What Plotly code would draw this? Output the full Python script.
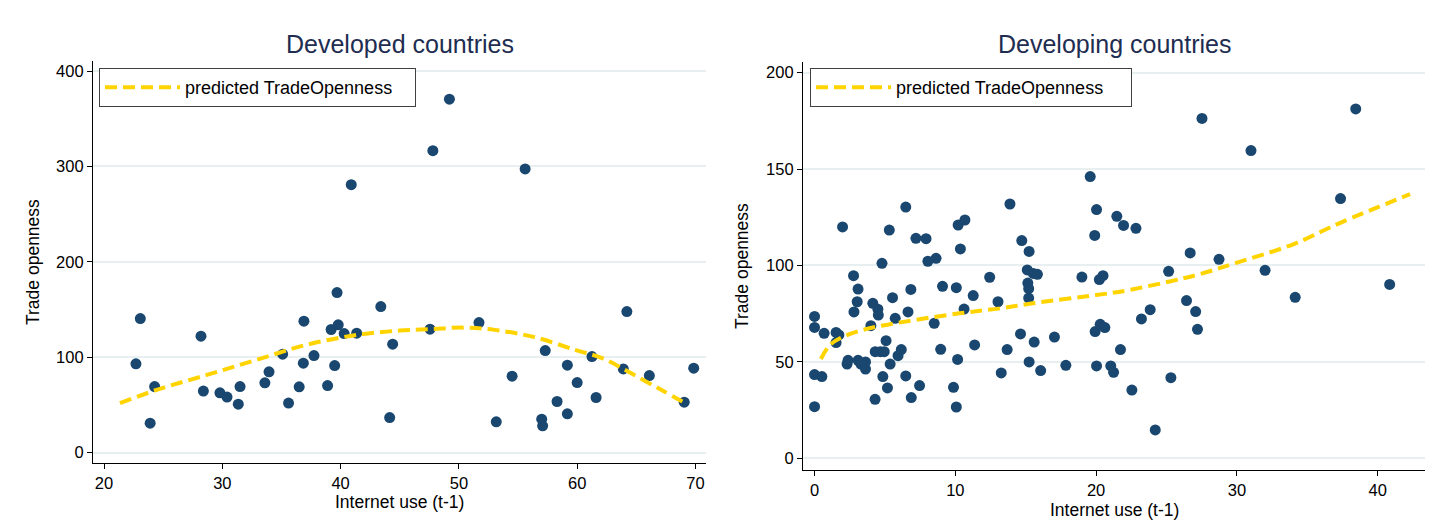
import plotly.graph_objects as go

# ---------------- Developed countries ----------------
dev_x = [22.7, 23.07, 24.28, 23.9, 28.2, 28.4, 29.8, 30.4, 31.5, 31.35,
         33.6, 33.95, 35.1, 35.6, 36.5, 36.85, 36.9, 37.75, 38.9, 39.2,
         39.5, 39.7, 39.8, 40.3, 40.9, 41.36, 43.4, 44.15, 44.4, 47.56,
         47.8, 49.2, 51.7, 53.16, 54.5, 55.6, 57.0, 57.08, 57.3, 58.3,
         59.17, 59.17, 60.0, 61.25, 61.6, 63.9, 64.2, 66.1, 69.05, 69.85]
dev_y = [93.0, 140.5, 69.2, 30.8, 122.0, 64.4, 62.6, 58.1, 69.2, 50.7,
         73.1, 84.6, 103.1, 51.8, 68.9, 93.7, 137.7, 101.7, 70.2, 129.0,
         91.2, 167.7, 133.9, 124.7, 280.9, 125.1, 153.0, 36.7, 113.6, 129.3,
         316.6, 370.6, 136.3, 32.2, 80.1, 297.4, 35.0, 28.0, 106.9, 53.5,
         91.6, 40.6, 73.4, 100.6, 57.7, 87.7, 147.8, 80.7, 52.8, 88.4]

dev_pred_x = [21.35, 24.45, 28.7, 32.9, 37.1, 41.4, 45.0, 47.6, 50.2, 53.0,
              56.4, 59.8, 62.1, 64.3, 67.1, 69.25]
dev_pred_y = [51.8, 65.7, 81.4, 97.2, 112.9, 123.4, 127.9, 129.3, 131.0, 128.6,
              121.0, 107.7, 99.0, 84.9, 65.7, 51.0]

# ---------------- Developing countries ----------------
dvg_x = [0.0, 0.0, 0.0, 0.0, 0.52, 0.68, 1.53, 1.73, 1.53, 1.99,
         2.31, 2.38, 2.77, 2.80, 3.03, 3.09, 3.09, 3.29, 3.62, 3.62,
         4.0, 4.14, 4.30, 4.31, 4.67, 4.50, 4.53, 4.79, 4.95, 4.85,
         5.08, 5.18, 5.31, 5.37, 5.54, 5.73, 5.93, 6.16, 6.48, 6.48,
         6.64, 6.84, 6.87, 7.2, 7.46, 7.92, 8.05, 8.5, 8.63, 8.96,
         9.09, 9.87, 10.07, 10.07, 10.16, 10.2, 10.36, 10.62, 10.68, 11.27,
         11.37, 12.44, 13.03, 13.26, 13.68, 13.88, 14.63, 14.72, 15.11, 15.15,
         15.21, 15.21, 15.24, 15.24, 15.6, 15.54, 15.83, 16.06, 17.04, 17.85,
         18.99, 19.58, 19.9, 19.93, 20.03, 20.03, 20.23, 20.29, 20.49, 20.62,
         21.04, 21.24, 21.47, 21.73, 21.95, 22.54, 22.83, 23.22, 23.84, 24.2,
         25.15, 25.31, 26.42, 26.68, 27.07, 27.2, 27.52, 28.73, 31.0, 32.0,
         34.14, 37.36, 38.44, 40.85]
dvg_y = [73.6, 67.9, 43.4, 26.8, 42.4, 64.8, 65.3, 64.0, 60.0, 120.0,
         48.9, 50.8, 94.7, 75.9, 81.2, 87.8, 50.8, 48.9, 46.3, 50.0,
         68.8, 80.4, 30.6, 55.3, 55.3, 77.3, 74.3, 101.1, 55.3, 42.4,
         61.0, 36.5, 118.4, 48.9, 83.3, 72.6, 53.2, 56.4, 130.3, 42.7,
         75.9, 87.6, 31.5, 114.1, 37.7, 113.9, 102.2, 70.0, 103.7, 56.5,
         89.2, 36.8, 88.5, 26.6, 51.3, 121.0, 108.6, 77.4, 123.6, 84.4,
         58.8, 93.9, 81.2, 44.3, 56.4, 131.9, 64.5, 112.9, 97.7, 90.9,
         88.0, 83.1, 107.3, 50.0, 60.3, 95.9, 95.4, 45.5, 62.9, 48.2,
         94.0, 146.1, 115.6, 65.7, 129.0, 47.9, 92.7, 69.5, 94.7, 67.8,
         47.9, 44.6, 125.5, 56.4, 120.8, 35.4, 119.3, 72.3, 77.1, 14.7,
         97.0, 41.8, 81.8, 106.5, 76.1, 66.9, 176.3, 103.2, 159.6, 97.5,
         83.5, 134.7, 181.2, 90.2]

dvg_pred_x = [0.45, 1.1, 2.05, 3.7, 6.1, 10.3, 13.2, 15.5, 20.0, 21.7,
              25.15, 27.4, 30.0, 34.0, 37.3, 42.3]
dvg_pred_y = [51.5, 58.8, 63.1, 67.1, 70.5, 75.2, 77.8, 80.4, 84.7, 86.4,
              91.6, 95.6, 101.5, 111.0, 122.0, 137.0]

dev_xticks = [20, 30, 40, 50, 60, 70]
dev_yticks = [0, 100, 200, 300, 400]
dvg_xticks = [0, 10, 20, 30, 40]
dvg_yticks = [0, 50, 100, 150, 200]

MARKER = "#1a476f"
LINE = "#FFD400"
GRID = "#e8eff1"
TITLE_C = "#1e2d50"
FONT = "Liberation Sans, Arial, sans-serif"
DASH = "12px,6px"

fig = go.Figure()
fig.add_trace(go.Scatter(x=dev_x, y=dev_y, mode="markers", xaxis="x", yaxis="y",
                         marker=dict(color=MARKER, size=11), showlegend=False))
fig.add_trace(go.Scatter(x=dev_pred_x, y=dev_pred_y, mode="lines", xaxis="x", yaxis="y",
                         line=dict(color=LINE, width=4, dash=DASH, shape="spline"),
                         name="predicted TradeOpenness", legend="legend"))
fig.add_trace(go.Scatter(x=dvg_x, y=dvg_y, mode="markers", xaxis="x2", yaxis="y2",
                         marker=dict(color=MARKER, size=11), showlegend=False))
fig.add_trace(go.Scatter(x=dvg_pred_x, y=dvg_pred_y, mode="lines", xaxis="x2", yaxis="y2",
                         line=dict(color=LINE, width=4, dash=DASH, shape="spline"),
                         name="predicted TradeOpenness", legend="legend2"))

W, H = 1445, 526
def px(x): return x / W
def py(y): return 1 - y / H

axis_common = dict(showline=True, linecolor="black", linewidth=1.2, ticks="outside",
                   ticklen=5, tickcolor="black", tickfont=dict(size=16.5, color="black", family=FONT),
                   zeroline=False, mirror=False)

def ann(text, x, y, size, color="black", angle=0):
    return dict(text=text, x=px(x), y=py(y), xref="paper", yref="paper",
                xanchor="center", yanchor="middle", showarrow=False, textangle=angle,
                font=dict(size=size, color=color, family=FONT))

leg_common = dict(xanchor="left", yanchor="top", bgcolor="white", orientation="h",
                  bordercolor="#404040", borderwidth=1, font=dict(size=18, color="black"),
                  itemwidth=75, entrywidthmode="pixels")

fig.update_layout(
    width=W, height=H, margin=dict(l=0, r=0, t=0, b=0),
    paper_bgcolor="white", plot_bgcolor="white",
    font=dict(family=FONT, color="black"),
    xaxis=dict(domain=[px(93), px(706)], range=[19.07, 70.89], anchor="y",
               tickvals=dev_xticks, showgrid=False, **axis_common),
    yaxis=dict(domain=[py(463), py(61)], range=[-11.0, 410.6], anchor="x",
               tickvals=dev_yticks, showgrid=True, gridcolor=GRID, gridwidth=1.5, **axis_common),
    xaxis2=dict(domain=[px(803), px(1425)], range=[-0.82, 43.36], anchor="y2",
                tickvals=dvg_xticks, showgrid=False, **axis_common),
    yaxis2=dict(domain=[py(470), py(61.7)], range=[-6.07, 205.7], anchor="x2",
                tickvals=dvg_yticks, showgrid=True, gridcolor=GRID, gridwidth=1.5, **axis_common),
    legend=dict(x=px(99), y=py(68), entrywidth=225, **leg_common),
    legend2=dict(x=px(810), y=py(68), entrywidth=230, **leg_common),
    annotations=[
        ann("Developed countries", 399.5, 44, 25, TITLE_C),
        ann("Developing countries", 1114, 44, 25, TITLE_C),
        ann("Trade openness", 33, 262, 17.5, angle=-90),
        ann("Trade openness", 742, 266, 17.5, angle=-90),
        ann("Internet use (t-1)", 399.5, 502, 17.5),
        ann("Internet use (t-1)", 1114, 510, 17.5),
    ],
)

fig.write_html("out.html", config={"displayModeBar": False},
               post_script="document.body.style.margin='0';document.body.style.overflow='hidden';")
